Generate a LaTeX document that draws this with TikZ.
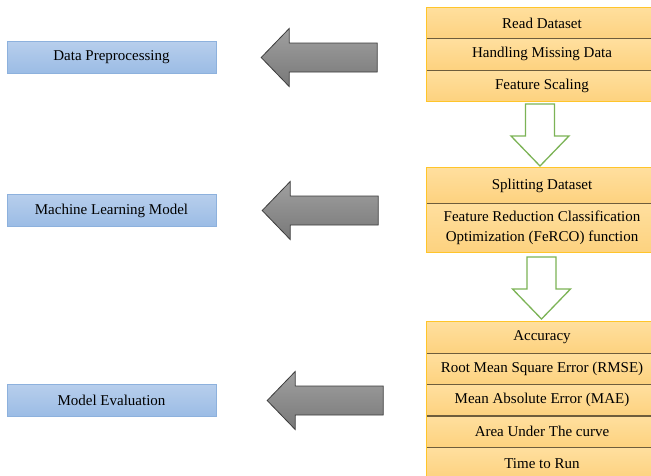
\documentclass[tikz,border=0pt]{standalone}
\usepackage{fontspec}
\setmainfont{Liberation Serif}
\usepackage{tikz}
\usetikzlibrary{positioning}
\definecolor{stageTop}{HTML}{B7CEEC}
\definecolor{stageBottom}{HTML}{9BBCE5}
\definecolor{stageBorder}{HTML}{8DB1DD}
\definecolor{rowTop}{HTML}{FFDF9E}
\definecolor{rowBottom}{HTML}{FDD27F}
\definecolor{groupGold}{HTML}{FFC52A}
\definecolor{rowDivider}{HTML}{6E5D3C}
\definecolor{arrowTop}{HTML}{A0A0A0}
\definecolor{arrowBottom}{HTML}{787878}
\definecolor{arrowBorder}{HTML}{3C3C3C}
\definecolor{greenLine}{HTML}{7CB356}
\tikzstyle{flow} = [x = 1pt, y = -1pt, every node/.style={font=\fontsize{15}{20}\selectfont, inner sep=0pt}]
\tikzstyle{stageBox} = [draw=stageBorder, top color=stageTop, bottom color=stageBottom, minimum width=209pt, minimum height=32pt]
\tikzstyle{stepRow} = [top color=rowTop, bottom color=rowBottom, minimum width=230pt, minimum height=31pt]
\tikzstyle{groupLine} = [draw=groupGold, line width=1.2pt]
\tikzstyle{rowLine} = [color=rowDivider, line width=1.2pt]
\tikzstyle{grayArrowStyle} = [draw=arrowBorder, top color=arrowTop, bottom color=arrowBottom, line width=0.8pt]
\tikzstyle{greenArrowStyle} = [draw=greenLine, fill=white, line width=1.3pt]
\newcommand{\grayArrow}[1]{\path [grayArrowStyle] (#1) -- ++(28,-29) -- ++(0,14.5) -- ++(88,0) -- ++(0,29) -- ++(-88,0) -- ++(0,14.5) -- cycle;}
\newcommand{\greenArrow}[2]{\path [greenArrowStyle] (#1 - 14.5, #2) -- (#1 + 14.5, #2) -- (#1 + 14.5, #2 + 32) -- (#1 + 29, #2 + 32) -- (#1, #2 + 62) -- (#1 - 29, #2 + 32) -- (#1 - 14.5, #2 + 32) -- cycle;}
\newcommand{\rowDivider}[1]{\draw [rowLine] (#1.north west) -- (#1.north east);}

\begin{document}
\begin{tikzpicture}[flow]
  \useasboundingbox (0,0) rectangle (651,475);
  \fill [white] (0,0) rectangle (651,475);
  % stages on the left
  \node [stageBox] (dataPre) at (111.5,57.5) {Data Preprocessing};
  \node [stageBox] (mlModel) at (111.5,210.5) {Machine Learning Model};
  \node [stageBox] (modelEval) at (111.5,400.5) {Model Evaluation};
  % first group
  \node [stepRow] (readData) at (542,23) {Read Dataset};
  \node [stepRow, below=0pt of readData] (missData) {Handling Missing Data};
  \node [stepRow, below=0pt of missData] (featScale) {Feature Scaling};
  \draw [groupLine] (readData.north west) rectangle (featScale.south east);
  \rowDivider{missData}\rowDivider{featScale}
  % second group
  \node [stepRow, minimum height=35pt] (splitData) at (542,185.5) {Splitting Dataset};
  \node [stepRow, minimum height=49pt, align=center, below=0pt of splitData] (ferco) {Feature Reduction Classification\\Optimization (FeRCO) function};
  \draw [groupLine] (splitData.north west) rectangle (ferco.south east);
  \rowDivider{ferco}
  % third group
  \node [stepRow] (accuracy) at (542,337.5) {Accuracy};
  \node [stepRow, below=0pt of accuracy] (rmse) {Root Mean Square Error (RMSE)};
  \node [stepRow, below=0pt of rmse] (mae) {Mean Absolute Error (MAE)};
  \node [stepRow, below=0pt of mae] (auc) {Area Under The curve};
  \node [stepRow, below=0pt of auc] (timeRun) {Time to Run};
  \draw [groupLine] (accuracy.north west) rectangle (timeRun.south east);
  \rowDivider{rmse}\rowDivider{mae}\rowDivider{auc}\rowDivider{timeRun}
  % arrows
  \coordinate (tipA) at ([xshift=45pt]dataPre.east);
  \coordinate (tipB) at ([xshift=46pt]mlModel.east);
  \coordinate (tipC) at ([xshift=51pt]modelEval.east);
  \grayArrow{tipA}\grayArrow{tipB}\grayArrow{tipC}
  \greenArrow{540}{104}
  \greenArrow{541.5}{257}
\end{tikzpicture}
\end{document}
